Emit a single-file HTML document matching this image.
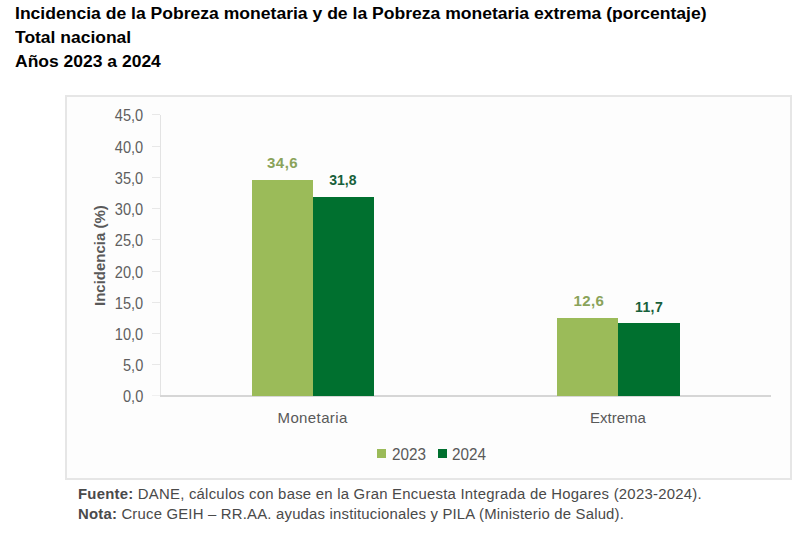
<!DOCTYPE html>
<html><head><meta charset="utf-8">
<style>
html,body{margin:0;padding:0;background:#fff;width:800px;height:533px;overflow:hidden;position:relative;font-family:"Liberation Sans",sans-serif;}
.t{position:absolute;white-space:nowrap;line-height:1;}
.title{left:15px;font-weight:bold;font-size:16px;color:#000;transform-origin:0 0;}
.frame{position:absolute;left:65px;top:95px;width:726.5px;height:385px;border:2px solid #e6e6e6;background:#fdfdfd;box-sizing:border-box;}
.yl{position:absolute;left:0;width:143.5px;text-align:right;font-size:16px;color:#5f5f5f;line-height:1;}
.yl span{display:inline-block;transform:scaleX(0.91);transform-origin:100% 50%;}
.tick{position:absolute;left:152px;width:8px;height:1px;background:#e8e8e8;}
.bar{position:absolute;}
.lab{position:absolute;font-weight:bold;white-space:nowrap;line-height:1;}
.cat{position:absolute;font-size:15px;color:#595959;line-height:1;white-space:nowrap;letter-spacing:0.39px;}
.foot{left:78px;font-size:14.9px;color:#4a4a4a;letter-spacing:0.2px;}
</style></head><body>
<div class="t title" style="top:5.8px;transform:scaleX(1.097)">Incidencia de la Pobreza monetaria y de la Pobreza monetaria extrema (porcentaje)</div>
<div class="t title" style="top:29.6px;transform:scaleX(1.092)">Total nacional</div>
<div class="t title" style="top:53.6px;transform:scaleX(1.093)">Años 2023 a 2024</div>

<div class="frame"></div>

<!-- axes -->
<div style="position:absolute;left:159.8px;top:114.5px;width:1px;height:281px;background:#e3e3e3"></div>
<div style="position:absolute;left:159.5px;top:395px;width:611.5px;height:1.6px;background:#d6d6d6"></div>

<div class="tick" style="top:114.3px"></div>
<div class="tick" style="top:145.5px"></div>
<div class="tick" style="top:176.8px"></div>
<div class="tick" style="top:208px"></div>
<div class="tick" style="top:239.2px"></div>
<div class="tick" style="top:270.5px"></div>
<div class="tick" style="top:301.7px"></div>
<div class="tick" style="top:332.9px"></div>
<div class="tick" style="top:364.2px"></div>
<div class="tick" style="top:395.3px;background:#f0f0f0"></div>

<div class="yl" style="top:108.3px"><span>45,0</span></div>
<div class="yl" style="top:139.5px"><span>40,0</span></div>
<div class="yl" style="top:170.8px"><span>35,0</span></div>
<div class="yl" style="top:202px"><span>30,0</span></div>
<div class="yl" style="top:233.2px"><span>25,0</span></div>
<div class="yl" style="top:264.5px"><span>20,0</span></div>
<div class="yl" style="top:295.7px"><span>15,0</span></div>
<div class="yl" style="top:326.9px"><span>10,0</span></div>
<div class="yl" style="top:358.2px"><span>5,0</span></div>
<div class="yl" style="top:389.3px"><span>0,0</span></div>

<div class="t" style="left:92px;top:306px;transform-origin:0 0;transform:rotate(-90deg);font-weight:bold;font-size:15px;color:#595959;">Incidencia (%)</div>

<!-- bars -->
<div class="bar" style="left:251.5px;top:180px;width:61.1px;height:215.8px;background:#9bbb59"></div>
<div class="bar" style="left:312.6px;top:197.2px;width:61.1px;height:198.6px;background:#00702f"></div>
<div class="bar" style="left:557px;top:317.5px;width:61px;height:78.3px;background:#9bbb59"></div>
<div class="bar" style="left:618px;top:323.1px;width:61.5px;height:72.7px;background:#00702f"></div>

<div class="lab" style="left:267px;top:155px;font-size:15px;letter-spacing:0.5px;color:#8aa35a">34,6</div>
<div class="lab" style="left:329.3px;top:173px;font-size:14px;color:#17603a">31,8</div>
<div class="lab" style="left:573.5px;top:292.5px;font-size:15px;letter-spacing:0.4px;color:#8aa35a">12,6</div>
<div class="lab" style="left:635px;top:299.5px;font-size:14px;letter-spacing:0.4px;color:#17603a">11,7</div>

<div class="cat" style="left:277.5px;top:410px">Monetaria</div>
<div class="cat" style="left:590px;top:410px;letter-spacing:0">Extrema</div>

<div style="position:absolute;left:377px;top:449px;width:9px;height:9px;background:#9bbb59"></div>
<div class="t" style="left:391.8px;top:446.5px;font-size:15.9px;color:#595959;transform:scaleX(0.96);transform-origin:0 0">2023</div>
<div style="position:absolute;left:438px;top:449px;width:9px;height:9px;background:#00702f"></div>
<div class="t" style="left:451.8px;top:446.5px;font-size:15.9px;color:#595959;transform:scaleX(0.96);transform-origin:0 0">2024</div>

<div class="t foot" style="top:486.5px;letter-spacing:0.24px"><b>Fuente:</b> DANE, cálculos con base en la Gran Encuesta Integrada de Hogares (2023-2024).</div>
<div class="t foot" style="top:507px"><b>Nota:</b> Cruce GEIH – RR.AA. ayudas institucionales y PILA (Ministerio de Salud).</div>
</body></html>
